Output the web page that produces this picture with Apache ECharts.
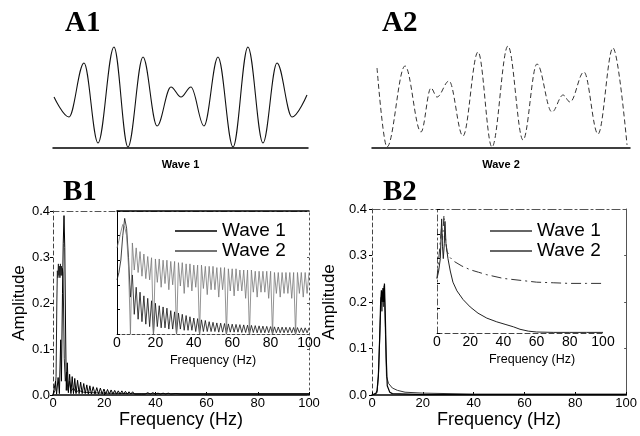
<!DOCTYPE html>
<html>
<head>
<meta charset="utf-8">
<script src="https://cdn.jsdelivr.net/npm/echarts@6/dist/echarts.min.js"></script>
<style>
  html, body { margin: 0; padding: 0; background: #fff; }
  #chart { width: 640px; height: 436px; }
</style>
</head>
<body>
<div id="chart"></div>
<script>
// ---- Time-domain traces: turning points (time in s, amplitude normalised to the trace peak) ----
const wave1Time = [0.008, 0.125, 0.243, 0.353, 0.478, 0.588, 0.706, 0.816, 0.925, 1.004, 1.082, 1.184, 1.294, 1.412, 1.529, 1.647, 1.757, 1.875, 1.992];
const wave1Amp  = [0.0, -0.4, 0.68, -0.92, 1.0, -1.0, 0.8, -0.58, 0.2, 0.0, 0.2, -0.58, 0.8, -1.0, 1.0, -0.92, 0.68, -0.4, 0.04];

const wave2Time = [0.039, 0.116, 0.256, 0.380, 0.457, 0.504, 0.597, 0.705, 0.822, 0.930, 1.054, 1.171, 1.279, 1.395, 1.481, 1.535, 1.643, 1.752, 1.868, 1.977];
const wave2Amp  = [0.58, -1.0, 0.62, -0.7, 0.18, 0.0, 0.32, -0.78, 0.9, -1.0, 1.02, -0.86, 0.66, -0.3, 0.04, -0.1, 0.5, -0.74, 0.98, -0.96];

// ---- B1: amplitude spectra (Hz, amplitude) ----
const b1Wave1Freq = [0, 0.5, 1, 1.4, 2, 2.5, 3.0, 3.3, 3.7, 4.0, 4.3, 4.6, 4.9, 5.2, 5.6, 6.0, 6.5, 7.0, 7.5, 8.0, 8.5, 9.0, 9.6, 10.2, 10.8, 11.4, 12.0, 12.6, 13.2, 13.8, 14.4, 15.0, 15.7, 16.4, 17.1, 17.8, 18.5, 19.2, 19.9, 20.6, 21.3, 22.0, 22.7, 23.4, 24.1, 24.8, 25.5, 26.2, 26.9, 27.6, 28.3, 29.0, 29.7, 30.4, 31.1, 31.8, 32.5, 33.2, 33.9, 34.6, 35.3, 36, 37, 38, 39, 40, 41, 42, 43, 44, 45, 46, 48, 50, 60, 80, 100];
const b1Wave1Amp  = [0, 0.015, 0.03, 0.002, 0.038, 0.003, 0.12, 0.03, 0.22, 0.33, 0.39, 0.32, 0.15, 0.01, 0.07, 0.005, 0.045, 0.003, 0.04, 0.003, 0.036, 0.003, 0.032, 0.003, 0.028, 0.003, 0.025, 0.003, 0.022, 0.002, 0.02, 0.002, 0.018, 0.002, 0.016, 0.002, 0.015, 0.002, 0.013, 0.002, 0.012, 0.002, 0.011, 0.002, 0.01, 0.002, 0.009, 0.002, 0.009, 0.002, 0.008, 0.002, 0.007, 0.002, 0.007, 0.002, 0.006, 0.002, 0.006, 0.002, 0.005, 0.002, 0.005, 0.002, 0.005, 0.002, 0.004, 0.002, 0.004, 0.002, 0.004, 0.002, 0.003, 0.002, 0.002, 0.002, 0.002];

const b1Wave2Freq = [0, 0.8, 1.2, 1.5, 1.7, 1.9, 2.1, 2.3, 2.5, 2.7, 2.9, 3.1, 3.3, 3.5, 3.7, 3.9, 4.1, 4.4, 4.8, 5.3, 5.8, 6.4, 7, 8, 9, 10, 12, 15, 20, 30, 50, 100];
const b1Wave2Amp  = [0, 0.01, 0.04, 0.2, 0.27, 0.255, 0.285, 0.26, 0.28, 0.255, 0.285, 0.26, 0.28, 0.26, 0.275, 0.265, 0.2, 0.08, 0.03, 0.05, 0.01, 0.03, 0.008, 0.015, 0.006, 0.01, 0.006, 0.005, 0.004, 0.003, 0.003, 0.003];

// B1 inset: relative spectral level in 1 Hz bins, 0..100 Hz
const b1InsetWave1 = [0.44, 0.50, 0.60, 0.80, 0.94, 0.86, 0.62, 0.30, 0.48, 0.16,
  0.38, 0.12, 0.34, 0.10, 0.31, 0.08, 0.29, 0.06, 0.27, 0.00,
  0.25, 0.06, 0.23, 0.05, 0.22, 0.05, 0.21, 0.04, 0.19, 0.04,
  0.18, 0.00, 0.17, 0.04, 0.16, 0.03, 0.15, 0.03, 0.14, 0.03,
  0.13, 0.02, 0.125, 0.00, 0.115, 0.02, 0.11, 0.02, 0.10, 0.02,
  0.095, 0.02, 0.09, 0.015, 0.088, 0.015, 0.085, 0.00, 0.082, 0.015,
  0.08, 0.015, 0.078, 0.015, 0.076, 0.012, 0.074, 0.012, 0.072, 0.00,
  0.07, 0.012, 0.068, 0.01, 0.066, 0.01, 0.064, 0.01, 0.062, 0.01,
  0.06, 0.00, 0.058, 0.01, 0.057, 0.01, 0.056, 0.01, 0.055, 0.01,
  0.054, 0.01, 0.053, 0.00, 0.052, 0.01, 0.05, 0.01, 0.05, 0.01, 0.05];
const b1InsetWave2 = [0.70, 0.76, 0.83, 0.89, 0.87, 0.80, 0.55, 0.00, 0.74, 0.52,
  0.70, 0.50, 0.67, 0.47, 0.65, 0.45, 0.63, 0.44, 0.62, 0.00,
  0.61, 0.42, 0.61, 0.38, 0.60, 0.41, 0.60, 0.36, 0.59, 0.40,
  0.59, 0.00, 0.58, 0.39, 0.58, 0.33, 0.57, 0.38, 0.57, 0.35,
  0.56, 0.38, 0.56, 0.00, 0.56, 0.37, 0.55, 0.32, 0.55, 0.36,
  0.55, 0.36, 0.54, 0.30, 0.54, 0.36, 0.54, 0.00, 0.53, 0.35,
  0.53, 0.31, 0.53, 0.35, 0.52, 0.35, 0.52, 0.29, 0.52, 0.00,
  0.52, 0.34, 0.51, 0.30, 0.51, 0.34, 0.51, 0.34, 0.51, 0.29,
  0.51, 0.00, 0.50, 0.33, 0.50, 0.30, 0.50, 0.33, 0.50, 0.33,
  0.50, 0.29, 0.50, 0.00, 0.50, 0.33, 0.50, 0.30, 0.50, 0.33, 0.50];

// ---- B2: amplitude spectra ----
const b2Wave1Freq = [0, 1.5, 2, 2.5, 3, 3.4, 3.7, 4.0, 4.3, 4.6, 4.9, 5.2, 5.6, 6, 7, 8, 20, 100];
const b2Wave1Amp  = [0, 0.003, 0.01, 0.04, 0.12, 0.2, 0.225, 0.2, 0.23, 0.2, 0.24, 0.18, 0.08, 0.02, 0.006, 0.003, 0.001, 0.001];
const b2Wave2Freq = [0, 2, 2.6, 3.2, 3.6, 3.9, 4.2, 4.5, 4.8, 5.3, 5.7, 6.5, 8, 10, 13, 20, 40, 100];
const b2Wave2Amp  = [0, 0.005, 0.05, 0.15, 0.21, 0.18, 0.22, 0.19, 0.235, 0.13, 0.04, 0.025, 0.015, 0.01, 0.006, 0.004, 0.002, 0.002];

// B2 inset: relative spectral level
const b2InsetWave1Freq = [0, 1, 2, 2.8, 3.3, 3.8, 4.4, 4.8, 5.4, 6.6, 8, 9.6, 12, 15.7, 20, 24.7, 30, 36, 41, 46, 50, 55, 60, 70, 80, 90, 100];
const b2InsetWave1Lvl  = [0.44, 0.5, 0.6, 0.92, 0.7, 0.6, 0.72, 0.9, 0.72, 0.6, 0.5, 0.41, 0.34, 0.27, 0.21, 0.16, 0.12, 0.09, 0.07, 0.05, 0.03, 0.015, 0.008, 0.005, 0.005, 0.005, 0.005];
const b2InsetWave2Freq = [0, 2.8, 3.3, 4.2, 4.8, 6, 7.8, 10, 15, 20, 25, 30, 40, 50, 60, 70, 80, 90, 100];
const b2InsetWave2Lvl  = [0.44, 0.86, 0.75, 0.95, 0.8, 0.66, 0.61, 0.58, 0.54, 0.51, 0.49, 0.47, 0.44, 0.425, 0.41, 0.405, 0.40, 0.40, 0.40];

// Axis ticks
const freqTicks = { min: 0, max: 100, interval: 20 };
const ampTicks = { min: 0, max: 0.4, interval: 0.1 };

const zip = (xs, ys) => xs.map((x, i) => [x, ys[i]]);
const binned = ys => ys.map((y, i) => [i, y]);

const SANS = "'Liberation Sans', Arial, sans-serif";
const SERIF = "'Liberation Serif', 'Times New Roman', serif";

const hidden = { show: false };
const noSplit = { show: false };

function waveX(grid, name) {
  return {
    gridIndex: grid, type: 'value', min: 0, max: 2,
    axisLine: { show: true, onZero: false, lineStyle: { color: '#000', width: 1.5 } },
    axisTick: hidden, axisLabel: hidden, splitLine: noSplit,
    name: name, nameLocation: 'middle', nameGap: 11,
    nameTextStyle: { fontFamily: SANS, fontWeight: 'bold', fontSize: 11, color: '#000' }
  };
}
function waveY(grid) {
  return { gridIndex: grid, type: 'value', min: -1.02, max: 1.02, show: false };
}
function mainX(grid) {
  return {
    gridIndex: grid, type: 'value', ...freqTicks,
    axisLine: { show: true, onZero: false, lineStyle: { color: '#000', width: 1.5 } },
    axisTick: { show: true, inside: true, length: 3, lineStyle: { color: '#000' } },
    axisLabel: { fontFamily: SANS, fontSize: 13, color: '#000', margin: 2 },
    splitLine: noSplit,
    name: 'Frequency (Hz)', nameLocation: 'middle', nameGap: 13,
    nameTextStyle: { fontFamily: SANS, fontSize: 18, color: '#000' }
  };
}
function mainY(grid, gap, margin) {
  return {
    gridIndex: grid, type: 'value', ...ampTicks,
    axisLine: { show: true, onZero: false, lineStyle: { color: '#444', type: [4, 3], width: 1 } },
    axisTick: { show: true, length: 3, lineStyle: { color: '#000' } },
    axisLabel: { fontFamily: SANS, fontSize: 13, color: '#000', margin: margin, formatter: v => v.toFixed(1) },
    splitLine: noSplit,
    name: 'Amplitude', nameLocation: 'middle', nameGap: gap,
    nameTextStyle: { fontFamily: SANS, fontSize: 17, color: '#000' }
  };
}
function insetX(grid, lineType, pad) {
  return {
    gridIndex: grid, type: 'value', ...freqTicks,
    axisLine: { show: true, onZero: false, lineStyle: { color: '#444', type: lineType, width: 1 } },
    axisTick: hidden,
    axisLabel: { fontFamily: SANS, fontSize: 14, color: '#000', margin: 2 },
    splitLine: noSplit,
    name: 'Frequency (Hz)', nameLocation: 'middle', nameGap: 20,
    nameTextStyle: { fontFamily: SANS, fontSize: 12.5, color: '#000', padding: pad }
  };
}
function insetY(grid, color, lineType) {
  return {
    gridIndex: grid, type: 'value', min: 0, max: 1, interval: 0.2,
    axisLine: { show: true, onZero: false, lineStyle: { color: color, type: lineType, width: 1 } },
    axisTick: { show: true, inside: true, length: 3, lineStyle: { color: '#000' } },
    axisLabel: hidden, splitLine: noSplit
  };
}
function frameX(grid, color, lineType, width) {
  return {
    gridIndex: grid, type: 'value', position: 'top', min: 0, max: 1,
    axisLine: { show: true, onZero: false, lineStyle: { color: color, type: lineType, width: width } },
    axisTick: hidden, axisLabel: hidden, splitLine: noSplit
  };
}
function frameY(grid, lineType) {
  return {
    gridIndex: grid, type: 'value', position: 'right', min: 0, max: 0.4, interval: 0.1,
    axisLine: { show: true, onZero: false, lineStyle: { color: '#555', type: lineType, width: 1 } },
    axisTick: { show: true, inside: true, length: 2, lineStyle: { color: '#555' } },
    axisLabel: hidden, splitLine: noSplit
  };
}
function line(name, xi, yi, data, color, width, extra) {
  return Object.assign({
    name: name, type: 'line', xAxisIndex: xi, yAxisIndex: yi, data: data,
    showSymbol: false, symbol: 'none', clip: true, silent: true,
    lineStyle: { color: color, width: width }
  }, extra || {});
}

// Turning points joined with horizontal tangents give a sinusoid-like trace
const waveSmooth = { smooth: 0.363, smoothMonotone: 'x' };

const chart = echarts.init(document.getElementById('chart'), null, { renderer: 'canvas' });

chart.setOption({
  animation: false,
  backgroundColor: '#fff',
  title: [
    { text: 'A1', left: 65, top: 9, padding: 0, textStyle: { fontFamily: SERIF, fontWeight: 'bold', fontSize: 29, color: '#000' } },
    { text: 'A2', left: 382, top: 9, padding: 0, textStyle: { fontFamily: SERIF, fontWeight: 'bold', fontSize: 29, color: '#000' } },
    { text: 'B1', left: 63, top: 178, padding: 0, textStyle: { fontFamily: SERIF, fontWeight: 'bold', fontSize: 29, color: '#000' } },
    { text: 'B2', left: 383, top: 178, padding: 0, textStyle: { fontFamily: SERIF, fontWeight: 'bold', fontSize: 29, color: '#000' } }
  ],
  legend: [
    {
      left: 175, top: 221, orient: 'vertical', icon: 'rect', itemWidth: 42, itemHeight: 1.5, itemGap: 0,
      selectedMode: false, padding: 0,
      textStyle: { fontFamily: SANS, fontSize: 19, color: '#000', lineHeight: 20 },
      data: [{ name: 'Wave 1', itemStyle: { color: '#000' } }, { name: 'Wave 2', itemStyle: { color: '#444' } }]
    },
    {
      left: 490, top: 221, orient: 'vertical', icon: 'rect', itemWidth: 42, itemHeight: 1.5, itemGap: 0,
      selectedMode: false, padding: 0,
      textStyle: { fontFamily: SANS, fontSize: 19, color: '#000', lineHeight: 20 },
      data: [{ name: 'Wave 1', itemStyle: { color: '#333' } }, { name: 'Wave 2', itemStyle: { color: '#333' } }]
    }
  ],
  grid: [
    { left: 53, top: 46, width: 255, height: 102 },   // A1
    { left: 372, top: 46, width: 258, height: 102 },  // A2
    { left: 53, top: 211, width: 256, height: 184 },  // B1 main
    { left: 117, top: 211, width: 192, height: 123 }, // B1 inset
    { left: 372, top: 209, width: 256, height: 186 }, // B2 main
    { left: 437, top: 209, width: 166, height: 124 }  // B2 inset
  ],
  xAxis: [
    waveX(0, 'Wave 1'),
    waveX(1, 'Wave 2'),
    mainX(2),
    insetX(3, [3, 2], [0, 0, 0, 0]),
    mainX(4),
    insetX(5, [5, 3], [0, 0, 0, 24]),
    frameX(2, '#555', [6, 3, 2, 3], 1),
    frameX(3, '#000', 'solid', 1.5),
    frameX(4, '#555', [8, 3, 2, 3], 1.2)
  ],
  yAxis: [
    waveY(0),
    waveY(1),
    mainY(2, 25, 3),
    insetY(3, '#000', 'solid'),
    mainY(4, 34, 5),
    insetY(5, '#555', [6, 3, 2, 3]),
    frameY(2, [2, 3]),
    frameY(4, 'solid')
  ],
  series: [
    line('Wave 1', 0, 0, zip(wave1Time, wave1Amp), '#111', 1.1, waveSmooth),
    line('Wave 2', 1, 1, zip(wave2Time, wave2Amp), '#333', 1, Object.assign({ lineStyle: { color: '#333', width: 1, type: [5, 3] } }, waveSmooth)),

    line('Wave 2', 2, 2, zip(b1Wave2Freq, b1Wave2Amp), '#222', 1),
    line('Wave 1', 2, 2, zip(b1Wave1Freq, b1Wave1Amp), '#000', 1),

    line('Wave 1', 3, 3, binned(b1InsetWave1), '#111', 0.8),
    line('Wave 2', 3, 3, binned(b1InsetWave2), '#777', 0.8),

    line('Wave 2', 4, 4, zip(b2Wave2Freq, b2Wave2Amp), '#333', 1),
    line('Wave 1', 4, 4, zip(b2Wave1Freq, b2Wave1Amp), '#000', 1.2),

    line('Wave 1', 5, 5, zip(b2InsetWave1Freq, b2InsetWave1Lvl), '#222', 1),
    line('Wave 2', 5, 5, zip(b2InsetWave2Freq, b2InsetWave2Lvl), '#333', 1, { lineStyle: { color: '#333', width: 1, type: [10, 4, 2, 4] } })
  ]
});
</script>
</body>
</html>
